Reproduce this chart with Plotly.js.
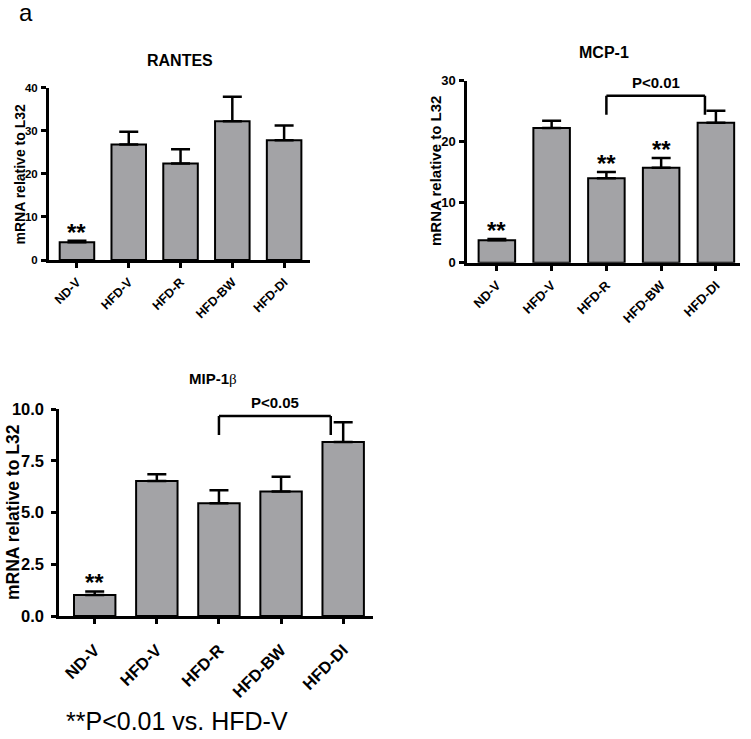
<!DOCTYPE html>
<html><head><meta charset="utf-8">
<script src="https://cdn.plot.ly/plotly-3.0.1.min.js"></script>
<style>body{margin:0;padding:0;background:#fff}#chart{width:751px;height:739px}</style>
</head><body><div id="chart"></div>
<script>
// ---------- data ----------
const categories = ['ND-V', 'HFD-V', 'HFD-R', 'HFD-BW', 'HFD-DI'];

const rantesMean = [4.1, 26.8, 22.4, 32.2, 27.8];
const rantesSEM  = [0.35, 3.0, 3.3, 5.7, 3.4];
const rantesStars = ['**', '', '', '', ''];

const mcpMean = [3.7, 22.2, 13.9, 15.65, 23.06];
const mcpSEM  = [0.2, 1.2, 1.05, 1.6, 2.0];
const mcpStars = ['**', '', '**', '**', ''];

const mipMean = [1.02, 6.53, 5.45, 6.02, 8.42];
const mipSEM  = [0.17, 0.33, 0.63, 0.72, 0.95];
const mipStars = ['**', '', '', '', ''];

const rantesTicks = [0, 10, 20, 30, 40];
const rantesTickText = ['0', '10', '20', '30', '40'];
const mcpTicks = [0, 10, 20, 30];
const mcpTickText = ['0', '10', '20', '30'];
const mipTicks = [0, 2.5, 5, 7.5, 10];
const mipTickText = ['0.0', '2.5', '5.0', '7.5', '10.0'];

const panelTitles = ['RANTES', 'MCP-1', 'MIP-1<span style="font-family:\'Liberation Serif\',serif;font-weight:normal">β</span>'];
const yTitle = 'mRNA relative to L32';
const footnote = '**P<0.01 vs. HFD-V';
const panelLetter = 'a';

// comparison brackets (category indices, label)
const brackets = [
  {panel: 1, from: 2, to: 4, label: 'P<0.01'},
  {panel: 2, from: 2, to: 4, label: 'P<0.05'}
];

// ---------- layout config (positions / styles) ----------
const W = 751, H = 739;
const FONT = 'Liberation Sans, Arial, Helvetica, sans-serif';
const px = v => v / W;
const py = v => 1 - v / H;

const panelCfg = [
  {mean: rantesMean, sem: rantesSEM, stars: rantesStars, ticks: rantesTicks, tickText: rantesTickText,
   xdom: [49, 310], ydom: [260, 87.7], yrange: [0, 40], xrange: [-0.54, 4.5],
   ytf: 11.5, xtf: 12.5, xso: 2, yso: 1, titleXY: [180, 61], titleSize: 16, ytXY: [19.5, 174], ytSize: 14},
  {mean: mcpMean, sem: mcpSEM, stars: mcpStars, ticks: mcpTicks, tickText: mcpTickText,
   xdom: [467.3, 740], ydom: [262.7, 80.7], yrange: [0, 30], xrange: [-0.54, 4.44],
   ytf: 13, xtf: 13, xso: 2, yso: 1, titleXY: [603.5, 52], titleSize: 16, ytXY: [436, 171], ytSize: 15,
   bracket: {top: 27.5, bottom: 24.4}},
  {mean: mipMean, sem: mipSEM, stars: mipStars, ticks: mipTicks, tickText: mipTickText,
   xdom: [59.3, 373], ydom: [616, 409.3], yrange: [0, 10], xrange: [-0.57, 4.48],
   ytf: 16.5, xtf: 16.5, xso: 10, yso: 4, titleXY: [213, 378], titleSize: 15, ytXY: [13, 512], ytSize: 17.5,
   bracket: {top: 9.68, bottom: 8.76}}
];

const traces = [];
const layout = {
  width: W, height: H,
  margin: {l: 0, r: 0, t: 0, b: 0},
  paper_bgcolor: '#fff', plot_bgcolor: 'rgba(0,0,0,0)',
  showlegend: false,
  font: {family: FONT, color: '#000'},
  annotations: [], shapes: []
};

panelCfg.forEach((p, k) => {
  const sfx = k === 0 ? '' : String(k + 1);
  const xa = 'x' + sfx, ya = 'y' + sfx;
  traces.push({
    type: 'bar', x: categories, y: p.mean, xaxis: xa, yaxis: ya, width: 0.667,
    marker: {color: '#a3a3a6', line: {color: '#000', width: 2}},
    error_y: {type: 'data', symmetric: false, array: p.sem, arrayminus: p.sem.map(() => 0),
              color: '#000', thickness: 2.5, width: 9.5},
    hoverinfo: 'skip'
  });
  layout['xaxis' + sfx] = {
    domain: [px(p.xdom[0]), px(p.xdom[1])], anchor: ya, type: 'category',
    range: p.xrange, showline: true, linewidth: 3, linecolor: '#000',
    ticks: 'outside', ticklen: 5, tickwidth: 3, tickcolor: '#000', ticklabelstandoff: p.xso,
    tickangle: -45, tickfont: {family: FONT, size: p.xtf, weight: 700, color: '#000'},
    showgrid: false, zeroline: false, fixedrange: true
  };
  layout['yaxis' + sfx] = {
    domain: [py(p.ydom[0]), py(p.ydom[1])], anchor: xa,
    range: p.yrange, tickvals: p.ticks, ticktext: p.tickText,
    showline: true, linewidth: 3, linecolor: '#000', ticklabelstandoff: p.yso,
    ticks: 'outside', ticklen: 5, tickwidth: 3, tickcolor: '#000',
    tickfont: {family: FONT, size: p.ytf, weight: 700, color: '#000'},
    showgrid: false, zeroline: false, fixedrange: true
  };
  // panel title
  layout.annotations.push({xref: 'paper', yref: 'paper', x: px(p.titleXY[0]), y: py(p.titleXY[1]),
    xanchor: 'center', yanchor: 'middle', showarrow: false, text: panelTitles[k],
    font: {family: FONT, size: p.titleSize, weight: 700, color: '#000'}});
  // y axis title
  layout.annotations.push({xref: 'paper', yref: 'paper', x: px(p.ytXY[0]), y: py(p.ytXY[1]),
    xanchor: 'center', yanchor: 'middle', showarrow: false, textangle: -90, text: yTitle,
    font: {family: FONT, size: p.ytSize, weight: 700, color: '#000'}});
  // significance stars
  p.stars.forEach((s, i) => {
    if (!s) return;
    layout.annotations.push({xref: xa, yref: ya, x: i, y: p.mean[i] + p.sem[i],
      xanchor: 'center', yanchor: 'bottom', yshift: -7, showarrow: false, text: s,
      font: {family: FONT, size: 24, weight: 700, color: '#000'}});
  });
});

brackets.forEach(b => {
  const p = panelCfg[b.panel];
  const sfx = String(b.panel + 1);
  const xa = 'x' + sfx, ya = 'y' + sfx;
  const x0 = b.from, x1 = b.to - 0.2;
  const ln = {color: '#000', width: 2.5};
  layout.shapes.push({type: 'line', xref: xa, yref: ya, x0: x0, x1: x0, y0: p.bracket.bottom, y1: p.bracket.top, line: ln});
  layout.shapes.push({type: 'line', xref: xa, yref: ya, x0: x0, x1: x1, y0: p.bracket.top, y1: p.bracket.top, line: ln});
  layout.shapes.push({type: 'line', xref: xa, yref: ya, x0: x1, x1: x1, y0: p.bracket.bottom, y1: p.bracket.top, line: ln});
  layout.annotations.push({xref: xa, yref: ya, x: (x0 + x1) / 2, y: p.bracket.top,
    xanchor: 'center', yanchor: 'middle', yshift: 13, showarrow: false, text: b.label,
    font: {family: FONT, size: 15, weight: 700, color: '#000'}});
});

layout.annotations.push({xref: 'paper', yref: 'paper', x: px(17), y: py(13), xanchor: 'left', yanchor: 'middle',
  showarrow: false, text: panelLetter, font: {family: FONT, size: 24, color: '#000'}});
layout.annotations.push({xref: 'paper', yref: 'paper', x: px(64), y: py(721), xanchor: 'left', yanchor: 'middle',
  showarrow: false, text: footnote, font: {family: FONT, size: 25, color: '#000'}});

Plotly.newPlot('chart', traces, layout, {staticPlot: true, displayModeBar: false});
</script>
</body></html>
